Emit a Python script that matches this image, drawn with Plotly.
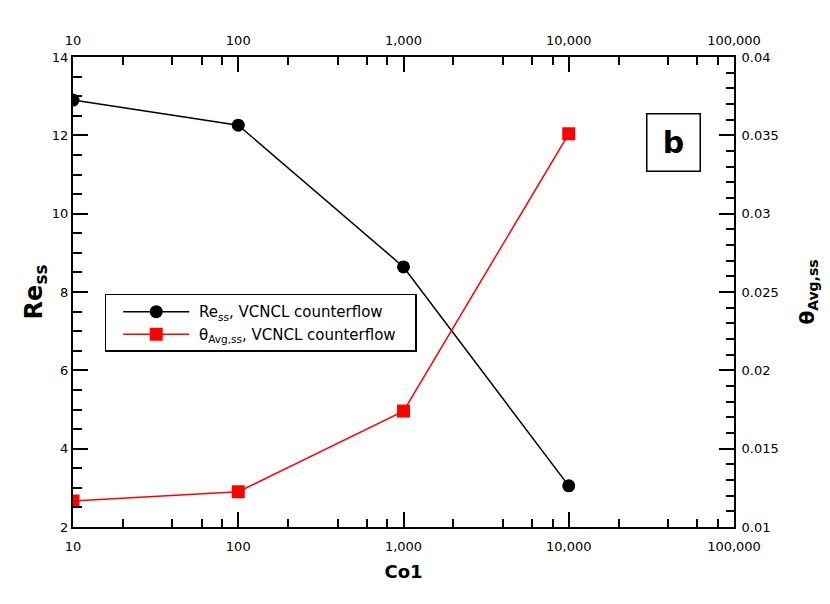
import plotly.graph_objects as go

co1 = [10, 100, 1000, 10000]
re_ss = [12.9, 12.26, 8.64, 3.05]
theta_avg_ss = [0.01166, 0.01225, 0.0174, 0.0351]

x_ticks = [10, 100, 1000, 10000, 100000]
x_labels = ["10", "100", "1,000", "10,000", "100,000"]
x_minor = [m * d for d in (10, 100, 1000, 10000) for m in (2, 4, 6, 8)]
theta_ticks = [0.01, 0.015, 0.02, 0.025, 0.03, 0.035, 0.04]
theta_labels = ["0.01", "0.015", "0.02", "0.025", "0.03", "0.035", "0.04"]

FONT = "DejaVu Sans"
NB = "\u00a0"

fig = go.Figure()

fig.add_trace(go.Scatter(
    x=co1, y=re_ss, mode="lines+markers",
    line=dict(color="black", width=1.5),
    marker=dict(symbol="circle", size=13, color="black"),
    name=NB + "Re<sub>ss</sub>, VCNCL counterflow" + NB * 3,
))

fig.add_trace(go.Scatter(
    x=co1, y=theta_avg_ss, mode="lines+markers", yaxis="y2",
    line=dict(color="red", width=1.5),
    marker=dict(symbol="square", size=13, color="red"),
    name=NB + "θ<sub>Avg,ss</sub>, VCNCL counterflow" + NB * 3,
))

# dummy trace so the top axis gets drawn
fig.add_trace(go.Scatter(x=[10, 100000], y=[2, 2], xaxis="x2", mode="markers",
                         marker=dict(opacity=0), showlegend=False, hoverinfo="skip"))

axis_common = dict(showline=True, linecolor="black", linewidth=2, showgrid=False,
                   zeroline=False, ticks="inside", tickcolor="black", tickwidth=2,
                   ticklen=15, automargin=False,
                   tickfont=dict(family=FONT, size=13, color="black"))

minor_x = dict(tickmode="array", tickvals=x_minor, ticks="inside", ticklen=8,
               tickwidth=2, tickcolor="black")

fig.update_layout(
    width=830, height=604,
    plot_bgcolor="white", paper_bgcolor="white",
    margin=dict(l=65, r=104, t=49, b=85),
    font=dict(family=FONT, color="black"),
    xaxis=dict(type="log", range=[1, 5], tickmode="array", tickvals=x_ticks, ticktext=x_labels,
               minor=minor_x, ticklabelstandoff=6,
               title=dict(text="<b>Co1</b>", font=dict(family=FONT, size=18), standoff=13),
               **axis_common),
    xaxis2=dict(type="log", range=[1, 5], overlaying="x", side="top", matches="x",
                tickmode="array", tickvals=x_ticks, ticktext=x_labels,
                minor=minor_x, ticklabelstandoff=5, **axis_common),
    yaxis=dict(range=[2, 14], tickmode="linear", tick0=2, dtick=2,
               minor=dict(dtick=0.5, ticks="inside", ticklen=9, tickwidth=2, tickcolor="black"),
               title=dict(text="<b>Re<sub>ss</sub></b>", font=dict(family=FONT, size=24), standoff=2),
               **axis_common),
    yaxis2=dict(range=[0.01, 0.04], overlaying="y", side="right", tickmode="array",
                tickvals=theta_ticks, ticktext=theta_labels, ticklabelstandoff=3,
                minor=dict(tickmode="linear", tick0=0.01, dtick=0.001, ticks="inside",
                           ticklen=8, tickwidth=2, tickcolor="black"),
                title=dict(text="<b>θ<sub>Avg,ss</sub></b>", font=dict(family=FONT, size=20), standoff=22),
                **axis_common),
    legend=dict(x=0.048, y=0.496, xanchor="left", yanchor="top",
                bgcolor="white", bordercolor="black", borderwidth=1.5,
                font=dict(family=FONT, size=15), itemwidth=66, indentation=12,
                tracegroupgap=0),
    annotations=[dict(text="<b>b</b>", xref="paper", yref="paper", x=0.908, y=0.819,
                      xanchor="center", yanchor="middle",
                      showarrow=False, font=dict(family=FONT, size=30, color="black"),
                      bordercolor="black", borderwidth=1.5, width=50, height=54,
                      bgcolor="white")],
)

fig.write_html("out.html")
